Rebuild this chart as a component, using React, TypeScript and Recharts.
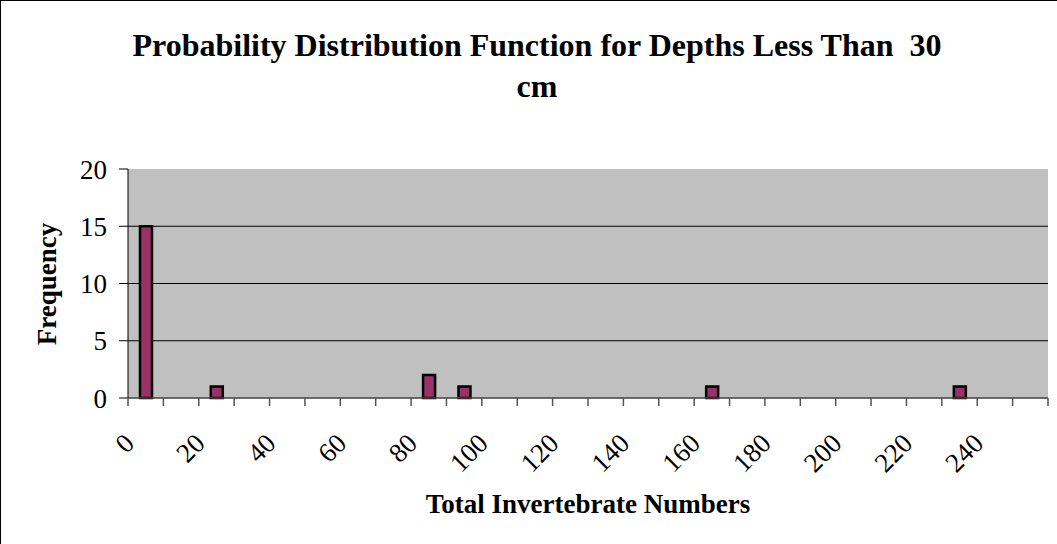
import React from 'react';
import { BarChart, Bar, XAxis, YAxis, CartesianGrid } from 'recharts';

const binStarts = [0, 10, 20, 30, 40, 50, 60, 70, 80, 90, 100, 110, 120, 130, 140, 150, 160, 170, 180, 190, 200, 210, 220, 230, 240, 250];
const frequencies = [15, 0, 1, 0, 0, 0, 0, 0, 2, 1, 0, 0, 0, 0, 0, 0, 1, 0, 0, 0, 0, 0, 0, 1, 0, 0];
const xTickLabels = ['0', '20', '40', '60', '80', '100', '120', '140', '160', '180', '200', '220', '240'];
const yTicks = [0, 5, 10, 15, 20];
const gridValues = [5, 10, 15];

const titleLine1 = 'Probability Distribution Function for Depths Less Than  30';
const titleLine2 = 'cm';
const xTitle = 'Total Invertebrate Numbers';
const yTitle = 'Frequency';

const data = binStarts.map((b, i) => ({ bin: b, freq: frequencies[i] }));

const W = 1057;
const H = 544;
const MARGIN = { top: 168, right: 10, left: 0, bottom: 0 };
const Y_AXIS_W = 127;
const X_AXIS_H = 147;
const PLOT_W = W - MARGIN.left - MARGIN.right - Y_AXIS_W;
const BAND = PLOT_W / binStarts.length;
const FONT = '"Liberation Serif", "Times New Roman", serif';

const XTick = (props: any) => {
  const { x, y, payload } = props;
  const idx: number = props.index ?? payload?.index ?? 0;
  const left = x - BAND / 2;
  const labelText = String(payload.value);
  const show = xTickLabels.includes(labelText);
  const ax = x - 10;
  const ay = y + 47;
  return (
    <g>
      <line x1={left} y1={y} x2={left} y2={y + 8} stroke="#555" strokeWidth={1.5} />
      {idx === binStarts.length - 1 && (
        <line x1={x + BAND / 2} y1={y} x2={x + BAND / 2} y2={y + 8} stroke="#555" strokeWidth={1.5} />
      )}
      {show && (
        <text
          x={ax}
          y={ay}
          textAnchor="end"
          transform={`rotate(-45 ${ax} ${ay})`}
          fontFamily={FONT}
          fontSize={27}
          fill="#000"
        >
          {labelText}
        </text>
      )}
    </g>
  );
};

export default function App() {
  return (
    <div
      style={{
        position: 'absolute',
        left: 0,
        top: 0,
        width: W,
        height: H,
        background: '#fff',
        fontFamily: FONT,
        boxSizing: 'border-box',
        borderLeft: '1px solid #000',
        borderTop: '1px solid #000',
      }}
    >
      <div style={{ position: 'absolute', left: 0, top: 0 }}>
        <BarChart width={W} height={H} data={data} margin={MARGIN}>
          <CartesianGrid
            vertical={false}
            horizontalValues={gridValues}
            fill="#C0C0C0"
            stroke="#000"
            strokeWidth={1}
          />
          <XAxis
            dataKey="bin"
            type="category"
            height={X_AXIS_H}
            interval={0}
            tickSize={0}
            tickMargin={0}
            tickLine={false}
            axisLine={{ stroke: '#404040', strokeWidth: 1.5 }}
            tick={<XTick />}
          />
          <XAxis
            xAxisId="top"
            dataKey="bin"
            orientation="top"
            height={0}
            tick={false}
            tickLine={false}
            axisLine={{ stroke: '#808080', strokeWidth: 2 }}
          />
          <YAxis
            width={Y_AXIS_W}
            domain={[0, 20]}
            ticks={yTicks}
            interval={0}
            tickSize={9}
            tickMargin={12}
            tickLine={{ stroke: '#000' }}
            axisLine={{ stroke: '#000' }}
            tick={{ fill: '#000', fontSize: 27, fontFamily: FONT }}
          />
          <YAxis
            yAxisId="right"
            orientation="right"
            width={0}
            domain={[0, 20]}
            tick={false}
            tickLine={false}
            axisLine={{ stroke: '#808080', strokeWidth: 2 }}
          />
          <Bar
            dataKey="freq"
            fill="#993366"
            stroke="#000"
            strokeWidth={2.5}
            barSize={12}
            isAnimationActive={false}
          />
        </BarChart>
      </div>
      <div
        style={{
          position: 'absolute',
          left: 536 - 500,
          width: 1000,
          top: 28,
          textAlign: 'center',
          fontSize: 32,
          lineHeight: '32px',
          fontWeight: 'bold',
          whiteSpace: 'pre',
        }}
      >
        {titleLine1}
      </div>
      <div
        style={{
          position: 'absolute',
          left: 536 - 500,
          width: 1000,
          top: 69,
          textAlign: 'center',
          fontSize: 32,
          lineHeight: '32px',
          fontWeight: 'bold',
        }}
      >
        {titleLine2}
      </div>
      <div
        style={{
          position: 'absolute',
          left: 587 - 300,
          width: 600,
          top: 490,
          textAlign: 'center',
          fontSize: 27,
          lineHeight: '27px',
          fontWeight: 'bold',
        }}
      >
        {xTitle}
      </div>
      <div
        style={{
          position: 'absolute',
          left: 46,
          top: 283,
          transform: 'translate(-50%, -50%) rotate(-90deg)',
          fontSize: 27,
          lineHeight: '27px',
          fontWeight: 'bold',
          whiteSpace: 'nowrap',
        }}
      >
        {yTitle}
      </div>
    </div>
  );
}
